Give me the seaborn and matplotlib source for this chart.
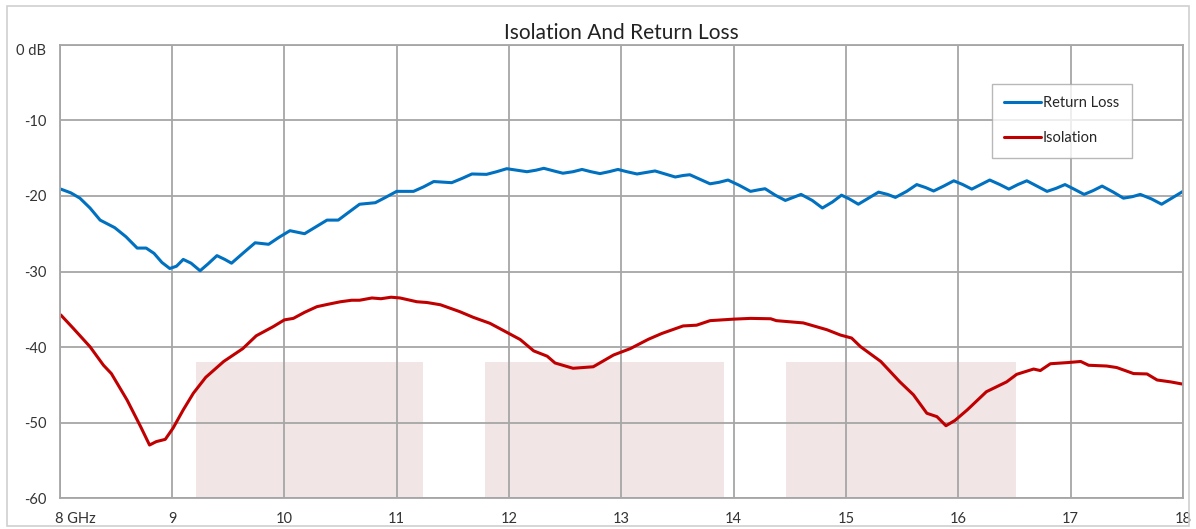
import matplotlib
matplotlib.use("Agg")
import matplotlib.pyplot as plt
import matplotlib.transforms as mtrans
import seaborn as sns
import pandas as pd
from matplotlib.patches import Rectangle

# ---- data ----
rl_freq = [8.01, 8.10, 8.18, 8.27, 8.36, 8.49, 8.59, 8.69, 8.77, 8.84, 8.91, 8.98, 9.04, 9.10, 9.17,
           9.25, 9.32, 9.40, 9.47, 9.53, 9.63, 9.74, 9.86, 9.95, 10.05, 10.18, 10.28, 10.38, 10.48,
           10.57, 10.67, 10.81, 10.90, 11.00, 11.15, 11.24, 11.33, 11.49, 11.58, 11.67, 11.80,
           11.89, 11.98, 12.07, 12.16, 12.24, 12.31, 12.40, 12.48, 12.57, 12.65, 12.73, 12.81,
           12.89, 12.97, 13.05, 13.14, 13.22, 13.30, 13.39, 13.48, 13.55, 13.61, 13.70, 13.79,
           13.87, 13.95, 14.05, 14.15, 14.22, 14.28, 14.37, 14.46, 14.53, 14.60, 14.70, 14.79,
           14.88, 14.96, 15.03, 15.11, 15.20, 15.29, 15.37, 15.44, 15.54, 15.63, 15.71, 15.78,
           15.87, 15.96, 16.04, 16.12, 16.20, 16.28, 16.37, 16.45, 16.53, 16.61, 16.70, 16.79,
           16.87, 16.95, 17.03, 17.12, 17.20, 17.28, 17.38, 17.47, 17.55, 17.62, 17.72, 17.81,
           17.90, 18.00]
rl_db = [-19.1, -19.6, -20.3, -21.6, -23.2, -24.2, -25.4, -26.9, -26.9, -27.6, -28.8, -29.6, -29.3,
         -28.4, -28.9, -29.9, -29.0, -27.9, -28.4, -28.9, -27.6, -26.2, -26.4, -25.5, -24.6, -25.0,
         -24.1, -23.2, -23.2, -22.2, -21.1, -20.9, -20.2, -19.4, -19.4, -18.8, -18.1, -18.25,
         -17.7, -17.1, -17.15, -16.8, -16.4, -16.6, -16.8, -16.6, -16.35, -16.7, -17.0, -16.8,
         -16.5, -16.8, -17.05, -16.8, -16.5, -16.8, -17.1, -16.9, -16.7, -17.1, -17.5, -17.3,
         -17.2, -17.8, -18.4, -18.2, -17.9, -18.6, -19.4, -19.2, -19.05, -19.9, -20.6, -20.2,
         -19.8, -20.6, -21.6, -20.8, -19.9, -20.4, -21.1, -20.3, -19.5, -19.8, -20.2, -19.4,
         -18.5, -18.9, -19.35, -18.7, -18.0, -18.5, -19.1, -18.5, -17.9, -18.5, -19.1, -18.5,
         -18.0, -18.7, -19.4, -19.0, -18.5, -19.1, -19.8, -19.3, -18.7, -19.5, -20.3, -20.1,
         -19.8, -20.4, -21.1, -20.3, -19.4]

iso_freq = [8.01, 8.12, 8.27, 8.39, 8.46, 8.60, 8.72, 8.80, 8.86, 8.94, 9.01, 9.10, 9.19, 9.30,
            9.46, 9.63, 9.75, 9.90, 10.00, 10.08, 10.18, 10.29, 10.40, 10.50, 10.60, 10.67,
            10.78, 10.86, 10.95, 11.03, 11.18, 11.27, 11.39, 11.56, 11.68, 11.83, 11.95, 12.10,
            12.22, 12.34, 12.41, 12.57, 12.75, 12.93, 13.08, 13.24, 13.36, 13.55, 13.67, 13.79,
            14.00, 14.15, 14.33, 14.38, 14.62, 14.83, 14.95, 15.05, 15.13, 15.31, 15.48, 15.60,
            15.72, 15.81, 15.89, 15.97, 16.08, 16.25, 16.43, 16.52, 16.67, 16.73, 16.82, 16.97,
            17.09, 17.16, 17.32, 17.41, 17.56, 17.68, 17.77, 17.89, 18.00]
iso_db = [-35.75, -37.5, -39.95, -42.4, -43.5, -47.0, -50.5, -52.95, -52.5, -52.2, -50.7, -48.3,
          -46.1, -44.0, -41.9, -40.2, -38.5, -37.3, -36.4, -36.2, -35.4, -34.65, -34.3, -34.0,
          -33.8, -33.8, -33.5, -33.6, -33.4, -33.5, -34.0, -34.1, -34.4, -35.3, -36.05, -36.85,
          -37.8, -39.0, -40.5, -41.2, -42.1, -42.8, -42.6, -41.05, -40.2, -38.97, -38.2, -37.2,
          -37.1, -36.5, -36.3, -36.2, -36.25, -36.5, -36.8, -37.7, -38.4, -38.8, -39.95, -41.9,
          -44.6, -46.3, -48.75, -49.2, -50.4, -49.7, -48.3, -45.9, -44.6, -43.6, -42.9, -43.1,
          -42.2, -42.05, -41.9, -42.4, -42.5, -42.7, -43.5, -43.55, -44.35, -44.6, -44.9]

band_start = [9.21, 11.79, 14.47]
band_end = [11.23, 13.91, 16.51]
band_top = -42

x_ticks = [8, 9, 10, 11, 12, 13, 14, 15, 16, 17, 18]
x_labels = ["8 GHz", "9", "10", "11", "12", "13", "14", "15", "16", "17", "18"]
y_ticks = [0, -10, -20, -30, -40, -50, -60]
y_labels = ["0 dB", "-10", "-20", "-30", "-40", "-50", "-60"]

series_names = ["Return Loss", "Isolation"]
series_colors = ["#0070C0", "#C00000"]

df = pd.concat([
    pd.DataFrame({"freq": rl_freq, "db": rl_db, "series": series_names[0]}),
    pd.DataFrame({"freq": iso_freq, "db": iso_db, "series": series_names[1]}),
], ignore_index=True)

# ---- plot ----
sns.set_theme(style="white")
plt.rcParams["font.family"] = ["Lato", "DejaVu Sans"]

fig = plt.figure(figsize=(11.96, 5.29), dpi=100)
ax = fig.add_axes([0.0499, 0.058, 0.9392, 0.8575])

grid_col = "#A6A6A6"
for s, e in zip(band_start, band_end):
    ax.fill_between([s, e], [-60, -60], [band_top, band_top], color="#F2E5E6", lw=0, zorder=0.5)

ax.set_axisbelow(True)
ax.grid(True, color=grid_col, lw=1.3)

sns.lineplot(data=df, x="freq", y="db", hue="series", hue_order=series_names,
             palette=series_colors, linewidth=2.2, ax=ax, sort=True, estimator=None)

ax.set_xlim(8, 18)
ax.set_ylim(-60, 0)
ax.set_xticks(x_ticks)
ax.set_xticklabels(x_labels)
ax.set_yticks(y_ticks)
ax.set_yticklabels(y_labels)
ax.tick_params(axis="both", length=0, labelsize=10.5, colors="#333333")
ax.tick_params(axis="x", pad=10)
ax.tick_params(axis="y", pad=9.5)
xl = ax.get_xticklabels()
xl[0].set_transform(xl[0].get_transform() + mtrans.ScaledTranslation(0.16, 0, fig.dpi_scale_trans))
yl = ax.get_yticklabels()
yl[0].set_transform(yl[0].get_transform() + mtrans.ScaledTranslation(0, -0.05, fig.dpi_scale_trans))
for sp in ax.spines.values():
    sp.set_color(grid_col)
    sp.set_linewidth(1.3)
ax.set_xlabel("")
ax.set_ylabel("")

ax.set_title("Isolation And Return Loss", fontsize=15, color="#222222", pad=4)

leg = ax.legend(loc="upper left", bbox_to_anchor=(0.830, 0.9142), frameon=True, fancybox=False,
                fontsize=10.5, labelspacing=1.45, handlelength=2.5, handletextpad=0.15,
                borderpad=0.85, borderaxespad=0)
leg.get_frame().set_edgecolor(grid_col)
leg.get_frame().set_linewidth(1.0)
for ln in leg.get_lines():
    ln.set_linewidth(2.2)

fig.patches.append(Rectangle((0.006, 0.006), 0.988, 0.982, transform=fig.transFigure,
                             fill=False, edgecolor="#D0D0D0", lw=1.2))

fig.savefig("out.png", dpi=100)
